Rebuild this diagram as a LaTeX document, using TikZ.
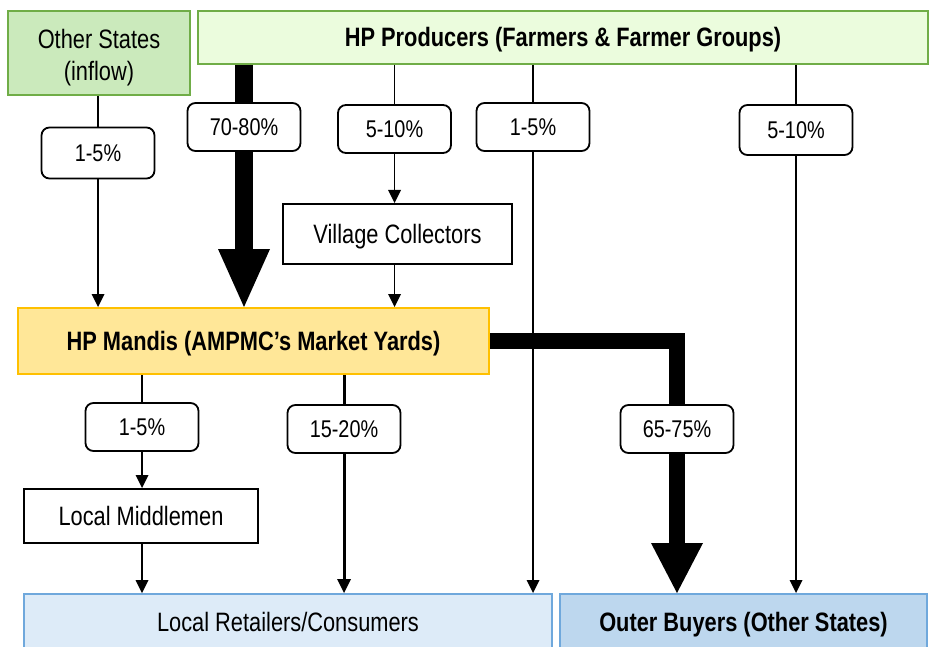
\documentclass[tikz,border=0pt]{standalone}
\usepackage{fontspec}
\setmainfont{Liberation Sans}[FakeStretch=0.82]
\usetikzlibrary{arrows.meta}
\definecolor{gborder}{HTML}{70AD47}
\definecolor{osfill}{HTML}{CBEABC}
\definecolor{prodfill}{HTML}{EBFCDD}
\definecolor{mfill}{HTML}{FFE798}
\definecolor{mborder}{HTML}{FFC000}
\definecolor{bborder}{HTML}{6FA8DC}
\definecolor{rfill}{HTML}{DDEBF8}
\definecolor{ofill}{HTML}{BDD7EE}
\begin{document}
\begin{tikzpicture}[x=1pt,y=-1pt,
  boxbase/.style={line width=2pt, inner sep=0pt, align=center, text height=24pt, text depth=5pt, font=\fontsize{26.6}{32}\selectfont},
  greenbox/.style={boxbase, draw=gborder},
  plainbox/.style={boxbase, draw=black, fill=white},
  bluebox/.style={boxbase, draw=bborder},
  boldtext/.style={font=\fontsize{26.6}{32}\selectfont\bfseries},
  lbl/.style={draw, rounded corners=8pt, line width=1.8pt, fill=white, minimum width=113pt, minimum height=48pt, inner sep=0pt, font=\fontsize{24.2}{26}\selectfont},
  thinarr/.style={line width=1.3pt, -{Triangle[width=13pt,length=13pt,line width=0pt]}},
  midarr/.style={line width=3pt, -{Triangle[width=14pt,length=14pt,line width=0pt]}},
  bigarr/.style={line width=18pt, -{Triangle[width=52pt,length=58pt,line width=0pt]}},
  bigarrb/.style={line width=16pt, line join=miter, -{Triangle[width=52pt,length=50pt,line width=0pt]}}
]
\useasboundingbox (0,0) rectangle (929,647);
% boxes
\node[line width=2pt, draw=gborder, fill=osfill, minimum width=182pt, minimum height=84pt] (other) at (99,53) {};
\node[align=center, inner sep=0pt, font=\fontsize{26.6}{32}\selectfont] (othertxt) at (99,58) {Other States\\(inflow)};
\node[greenbox, fill=prodfill, minimum width=730pt, minimum height=53pt, boldtext] (prod) at (563,37.5) {HP Producers (Farmers \& Farmer Groups)};
\node[plainbox, minimum width=229pt, minimum height=60pt] (vill) at (397.5,234) {Village Collectors};
\node[boxbase, draw=mborder, fill=mfill, minimum width=471pt, minimum height=66pt, boldtext] (mandis) at (253.5,341) {HP Mandis (AMPMC’s Market Yards)};
\node[plainbox, minimum width=234pt, minimum height=54pt] (midm) at (141,516) {Local Middlemen};
\node[bluebox, fill=rfill, minimum width=528pt, minimum height=56pt] (retail) at (288,622) {Local Retailers/Consumers};
\node[bluebox, fill=ofill, minimum width=367pt, minimum height=56pt, boldtext] (outer) at (743.5,622) {Outer Buyers (Other States)};
% labels
\node[lbl, minimum height=51pt] (l1) at (98,153) {1-5\%};
\node[lbl] (l70) at (244,127) {70-80\%};
\node[lbl] (l510a) at (394.5,129) {5-10\%};
\node[lbl] (lmid) at (533,127) {1-5\%};
\node[lbl, minimum height=50pt] (lr) at (796,130) {5-10\%};
\node[lbl] (llow) at (142,427) {1-5\%};
\node[lbl] (l1520) at (344,429) {15-20\%};
\node[lbl] (l6575) at (677,429) {65-75\%};
% connectors
\draw[thinarr] (l1 |- other.south) -- (l1) -- (l1 |- mandis.north);
\draw[bigarr] (l70 |- prod.south) -- (l70) -- (l70 |- mandis.north);
\draw[thinarr] (l510a |- prod.south) -- (l510a) -- (l510a |- vill.north);
\draw[thinarr] (l510a |- vill.south) -- (l510a |- mandis.north);
\draw[thinarr] (lmid |- prod.south) -- (lmid) -- (lmid |- retail.north);
\draw[thinarr] (lr |- prod.south) -- (lr) -- (lr |- outer.north);
\draw[thinarr] (llow |- mandis.south) -- (llow) -- (llow |- midm.north);
\draw[thinarr] (llow |- midm.south) -- (llow |- retail.north);
\draw[midarr] (l1520 |- mandis.south) -- (l1520) -- (l1520 |- retail.north);
\draw[bigarrb] (mandis.east) -- (l6575 |- mandis.east) -- (l6575) -- (l6575 |- outer.north);
\end{tikzpicture}
\end{document}
